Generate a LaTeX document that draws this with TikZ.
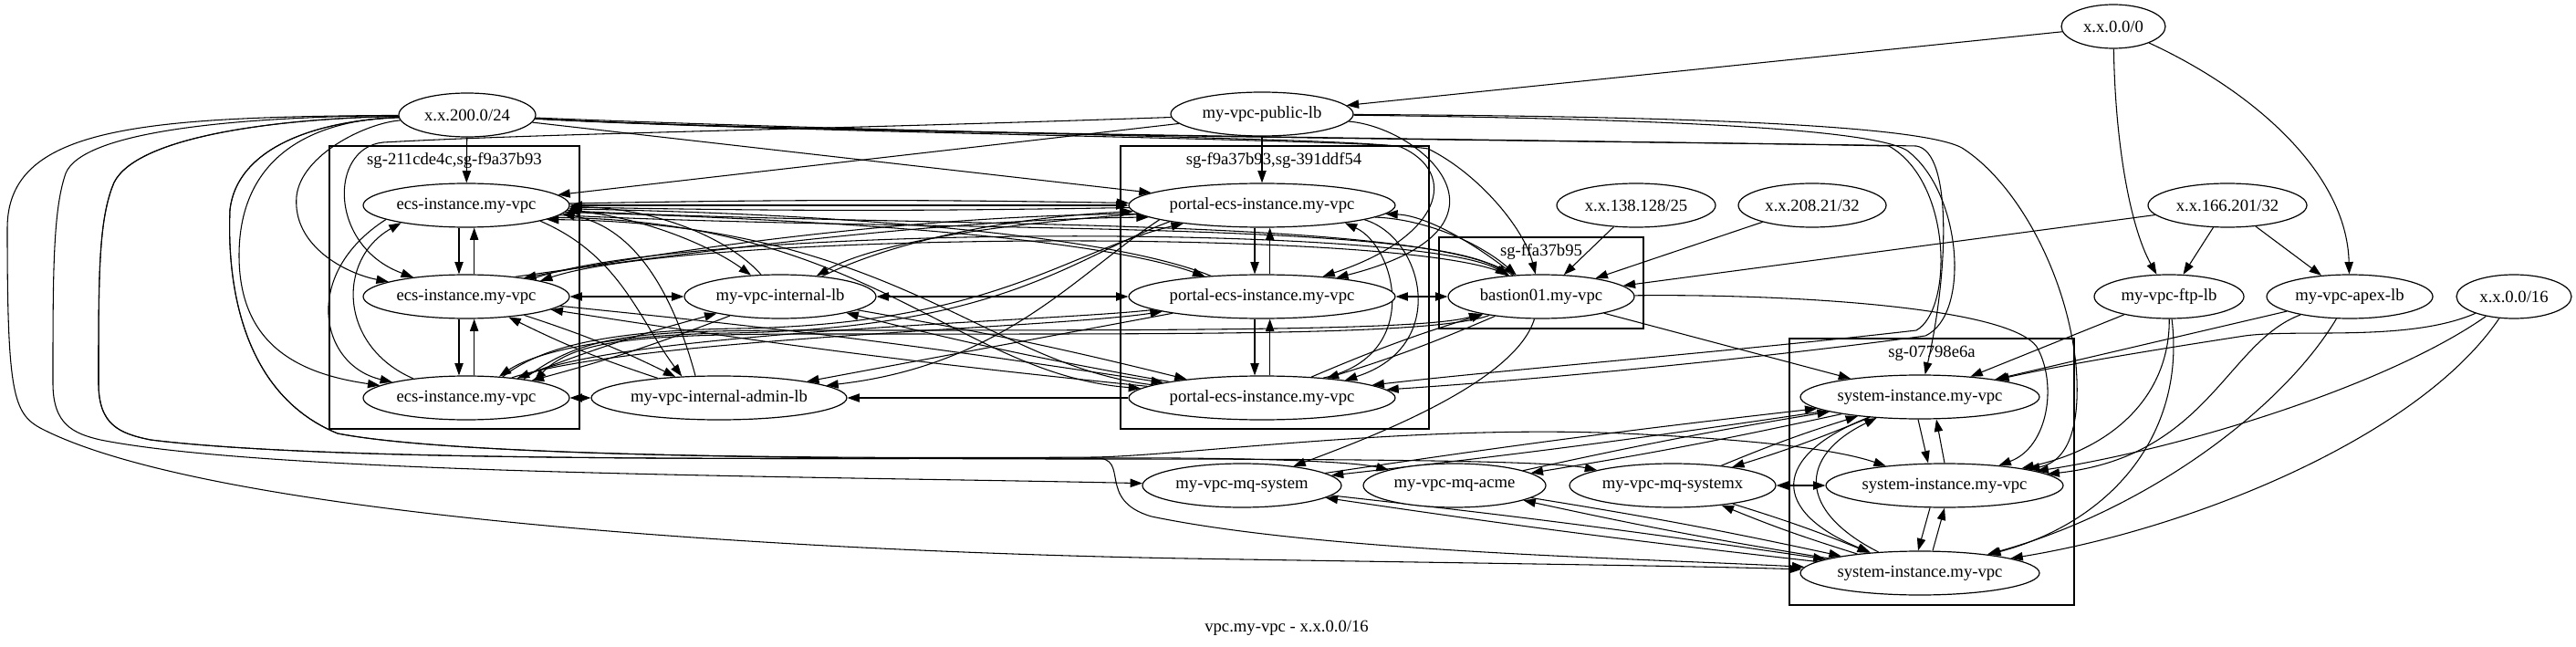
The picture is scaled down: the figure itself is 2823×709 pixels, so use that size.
\documentclass[tikz,border=0pt]{standalone}
\usepackage{fontspec}
\setmainfont{Liberation Serif}
\usetikzlibrary{arrows.meta,shapes.geometric}
\pgfdeclarelayer{bg}
\pgfsetlayers{bg,main}
\begin{document}
\begin{tikzpicture}[x=0.75pt,y=-0.75pt,
  nd/.style={draw, ellipse, fill=white, line width=0.9pt, inner sep=0pt, minimum height=36pt, font=\fontsize{14}{16}\selectfont},
  e/.style={line width=0.8pt, -{Triangle[length=10pt,width=7pt]}},
  ee/.style={line width=0.8pt, {Triangle[length=10pt,width=7pt]}-{Triangle[length=10pt,width=7pt]}},
  cl/.style={draw, line width=0.9pt},
  lbl/.style={font=\fontsize{14}{16}\selectfont, inner sep=0pt}]
\useasboundingbox (0,0) rectangle (2823,709);
\begin{pgfonlayer}{bg}
\fill[white] (0,0) rectangle (2823,709);
\end{pgfonlayer}
% clusters
\draw[cl] (361,160) rectangle (635,470);
\node[lbl] (la) at (498,176) {sg-211cde4c,sg-f9a37b93};
\draw[cl] (1228,160) rectangle (1566,470);
\node[lbl] (lb) at (1396,176) {sg-f9a37b93,sg-391ddf54};
\draw[cl] (1577,260) rectangle (1801,360);
\node[lbl] (lc) at (1689,276) {sg-ffa37b95};
\draw[cl] (1961,371) rectangle (2273,663);
\node[lbl] (ld) at (2117,387) {sg-07798e6a};
% nodes
\node[nd, minimum width=85.5pt] (n00) at (2316,29) {x.x.0.0/0};
\node[nd, minimum width=112.5pt] (n200) at (512,126) {x.x.200.0/24};
\node[nd, minimum width=150pt] (publb) at (1383,125) {my-vpc-public-lb};
\node[nd, minimum width=130.5pt] (n138) at (1793,225) {x.x.138.128/25};
\node[nd, minimum width=121.5pt] (n208) at (1986,225) {x.x.208.21/32};
\node[nd, minimum width=130.5pt] (n166) at (2441,225) {x.x.166.201/32};
\node[nd, minimum width=123pt] (ftp) at (2377,325) {my-vpc-ftp-lb};
\node[nd, minimum width=136.5pt] (apex) at (2575,325) {my-vpc-apex-lb};
\node[nd, minimum width=94.5pt] (n16) at (2755,325) {x.x.0.0/16};
\node[nd, minimum width=169.5pt] (e1) at (511,225) {ecs-instance.my-vpc};
\node[nd, minimum width=169.5pt] (e2) at (511,325) {ecs-instance.my-vpc};
\node[nd, minimum width=169.5pt] (e3) at (511,436) {ecs-instance.my-vpc};
\node[nd, minimum width=157.5pt] (ilb) at (855,325) {my-vpc-internal-lb};
\node[nd, minimum width=210pt] (alb) at (788,436) {my-vpc-internal-admin-lb};
\node[nd, minimum width=219pt] (p1) at (1383,225) {portal-ecs-instance.my-vpc};
\node[nd, minimum width=219pt] (p2) at (1383,325) {portal-ecs-instance.my-vpc};
\node[nd, minimum width=219pt] (p3) at (1383,436) {portal-ecs-instance.my-vpc};
\node[nd, minimum width=153pt] (bast) at (1689,325) {bastion01.my-vpc};
\node[nd, minimum width=196.5pt] (s1) at (2104,435) {system-instance.my-vpc};
\node[nd, minimum width=195pt] (s2) at (2131,532) {system-instance.my-vpc};
\node[nd, minimum width=196.5pt] (s3) at (2104,628) {system-instance.my-vpc};
\node[nd, minimum width=163.5pt] (mqs) at (1361,532) {my-vpc-mq-system};
\node[nd, minimum width=150pt] (mqa) at (1594,532) {my-vpc-mq-acme};
\node[nd, minimum width=169.5pt] (mqx) at (1833,532) {my-vpc-mq-systemx};
\node[lbl] (title) at (1410,688) {vpc.my-vpc - x.x.0.0/16};
% edges
\begin{pgfonlayer}{bg}
% top sources
\draw[e] (n00) -- (publb);
\draw[e] (n00) .. controls (2318,160) and (2335,250) .. (ftp);
\draw[e] (n00) .. controls (2470,100) and (2572,190) .. (apex);
\draw[e] (n166) -- (ftp);
\draw[e] (n166) -- (apex);
\draw[e] (n166) -- (bast);
\draw[e] (n138) -- (bast);
\draw[e] (n208) -- (bast);
% public lb
\draw[e] (publb) -- (p1);
\draw[e] (publb) -- (e1);
\draw[e] (publb) .. controls (900,142) and (600,146) .. (420,156) .. controls (360,162) and (360,270) .. (e2);
\draw[e] (publb) .. controls (1560,140) and (1680,250) .. (p2);
\draw[e] (publb) .. controls (1800,127) and (2100,135) .. (2150,162) .. controls (2210,200) and (2265,300) .. (2275,400) .. controls (2280,460) and (2270,505) .. (s2);
\draw[e] (publb) .. controls (1800,130) and (2050,140) .. (2090,165) .. controls (2150,210) and (2160,345) .. (2110,368) .. controls (1950,390) and (1700,415) .. (p3);
% x.x.200.0/24 to the right
\draw[e] (n200) -- (e1);
\draw[e] (n200) -- (p1);
\draw[e] (n200) .. controls (900,147) and (1500,152) .. (1565,163) .. controls (1620,190) and (1670,250) .. (bast);
\draw[e] (n200) .. controls (1000,146) and (1480,151) .. (1535,161) .. controls (1600,190) and (1580,260) .. (p2);
\draw[e] (n200) .. controls (900,148) and (1900,156) .. (2100,160) .. controls (2140,166) and (2135,300) .. (s1);
\draw[e] (n200) .. controls (900,147) and (1800,154) .. (2070,160) .. controls (2140,200) and (2140,340) .. (2100,362) .. controls (1900,385) and (1650,405) .. (p3);
% x.x.200.0/24 to the left
\draw[e] (n200) .. controls (400,135) and (330,170) .. (325,215) .. controls (320,270) and (380,300) .. (e2);
\draw[e] (n200) .. controls (330,132) and (262,180) .. (262,280) .. controls (262,380) and (330,410) .. (e3);
\draw[e] (n200) .. controls (150,128) and (8,140) .. (8,250) .. controls (8,440) and (15,455) .. (50,472) .. controls (250,570) and (900,605) .. (1300,612) .. controls (1600,617) and (1850,620) .. (s3);
\draw[e] (n200) .. controls (250,128) and (90,145) .. (72,190) .. controls (58,230) and (58,300) .. (58,420) .. controls (58,465) and (80,475) .. (110,482) .. controls (300,520) and (900,522) .. (mqs);
\draw[e] (n200) .. controls (300,130) and (150,150) .. (125,200) .. controls (108,240) and (108,300) .. (108,420) .. controls (108,465) and (130,475) .. (165,482) .. controls (350,505) and (800,503) .. (1200,502) .. controls (1350,501) and (1480,505) .. (mqa);
\draw[e] (n200) .. controls (300,130) and (150,150) .. (125,200) .. controls (108,240) and (108,300) .. (108,420) .. controls (108,465) and (130,475) .. (165,482) .. controls (350,505) and (800,503) .. (1200,502) .. controls (1240,501) and (1200,548) .. (1262,566) .. controls (1450,605) and (1800,612) .. (s3);
\draw[e] (n200) .. controls (350,132) and (260,160) .. (252,230) .. controls (249,300) and (260,430) .. (370,475) .. controls (500,500) and (900,503) .. (1200,503) .. controls (1500,503) and (1700,505) .. (mqx);
\draw[e] (n200) .. controls (350,132) and (260,160) .. (252,230) .. controls (249,300) and (260,430) .. (370,475) .. controls (500,500) and (900,503) .. (1200,501) .. controls (1300,499) and (1550,465) .. (1780,475) .. controls (1950,483) and (2020,495) .. (s2);
% cluster A
\draw[e] ([xshift=-6pt]e1.south) -- ([xshift=-6pt]e2.north);
\draw[e] ([xshift=6.5pt]e2.north) -- ([xshift=6.5pt]e1.south);
\draw[e] ([xshift=-6pt]e2.south) -- ([xshift=-6pt]e3.north);
\draw[e] ([xshift=6.5pt]e3.north) -- ([xshift=6.5pt]e2.south);
\draw[e] (e1.190) .. controls (330,300) and (350,400) .. (e3.168);
\draw[e] (e3.160) .. controls (372,380) and (368,285) .. (e1.195);
\draw[ee] (e3) -- (alb);
% middle
\draw[ee] (e2) -- (ilb);
\draw[ee] (ilb) -- (p2);
\draw[e] (e1) .. controls (700,235) and (780,270) .. (ilb);
\draw[e] (ilb) .. controls (800,262) and (720,228) .. (e1);
\draw[e] (p1) .. controls (1100,245) and (960,265) .. (ilb);
\draw[e] (ilb) .. controls (985,262) and (1110,238) .. (p1);
\draw[e] (e3) to[bend left=3] (ilb);
\draw[e] (ilb) to[bend left=3] (e3);
\draw[e] (ilb) to[bend left=2] (p3);
\draw[e] (p3) to[bend left=2] (ilb);
\draw[e] (e1.-12) .. controls (680,280) and (700,350) .. (alb.150);
\draw[e] (alb.137) .. controls (740,330) and (700,250) .. (e1.-5);
\draw[e] (e2) to[bend left=4] (alb);
\draw[e] (alb) to[bend left=4] (e2);
\draw[e] (p2) -- (alb);
\draw[e] (p1.188) .. controls (1180,300) and (1100,400) .. (alb);
\draw[e] (p3) -- (alb);
% cluster A <-> cluster B
\draw[ee] (e1) -- (p1);
\draw[e] (e1) to[bend left=1] (p1);
\draw[e] (p1) to[bend left=1] (e1);
\draw[e] (e1.-4) .. controls (900,240) and (1200,260) .. (p2);
\draw[e] (p2) .. controls (1210,255) and (900,234) .. (e1.-2);
\draw[e] (e1.-6) .. controls (1000,255) and (1560,240) .. (bast);
\draw[e] (bast) .. controls (1570,236) and (1000,250) .. (e1.-3);
\draw[e] (e1.-8) .. controls (950,240) and (1050,410) .. (p3);
\draw[e] (p3) .. controls (1080,400) and (980,245) .. (e1.-10);
\draw[e] (e2.22) .. controls (800,270) and (1050,240) .. (p1.186);
\draw[e] (p1.184) .. controls (1050,235) and (800,262) .. (e2.18);
\draw[e] (e2.15) .. controls (750,245) and (1560,245) .. (bast);
\draw[e] (bast) .. controls (1570,250) and (760,252) .. (e2.12);
\draw[e] (e2) to[bend left=1.5] (p3);
\draw[e] (p3) to[bend left=1.5] (e2);
\draw[e] (e3.24) .. controls (700,370) and (1150,360) .. (p2);
\draw[e] (p2) .. controls (1160,352) and (700,362) .. (e3.21);
\draw[e] (p1.190) .. controls (1180,280) and (1100,360) .. (800,365) .. controls (650,367) and (580,390) .. (e3.33);
\draw[e] (e3.30) .. controls (590,382) and (660,362) .. (810,360) .. controls (1090,355) and (1170,275) .. (p1.193);
\draw[e] (e3.18) .. controls (640,365) and (700,362) .. (900,362) .. controls (1300,362) and (1560,362) .. (bast);
\draw[e] (bast) .. controls (1570,368) and (1300,366) .. (900,366) .. controls (700,366) and (630,372) .. (e3.14);
% cluster B
\draw[e] ([xshift=-6pt]p1.south) -- ([xshift=-6pt]p2.north);
\draw[e] ([xshift=6.5pt]p2.north) -- ([xshift=6.5pt]p1.south);
\draw[e] ([xshift=-6pt]p2.south) -- ([xshift=-6pt]p3.north);
\draw[e] ([xshift=6.5pt]p3.north) -- ([xshift=6.5pt]p2.south);
\draw[e] (p1.-8) .. controls (1560,260) and (1590,380) .. (p3.12);
\draw[e] (p3.18) .. controls (1560,390) and (1530,270) .. (p1.-12);
\draw[ee] (p2) -- (bast);
\draw[e] (p1.-6) .. controls (1560,240) and (1620,265) .. (bast);
\draw[e] (bast) .. controls (1610,262) and (1560,236) .. (p1.-4);
\draw[e] (p3) to[bend left=3] (bast);
\draw[e] (bast) to[bend left=3] (p3);
% bastion
\draw[e] (bast) -- (s1);
\draw[e] (bast) .. controls (1950,322) and (2200,335) .. (2232,380) .. controls (2255,420) and (2245,490) .. (s2);
\draw[e] (bast) .. controls (1660,420) and (1500,480) .. (mqs);
% system cluster
\draw[e] ([xshift=-1.5pt]s1.south) -- ([xshift=-13.5pt]s2.north);
\draw[e] (s2.north) -- ([xshift=13.5pt]s1.south);
\draw[e] ([xshift=-12pt]s2.south) -- ([xshift=-1.5pt]s3.north);
\draw[e] ([xshift=10.5pt]s3.north) -- (s2.south);
\draw[e] (s1) .. controls (1940,500) and (1940,560) .. (s3);
\draw[e] (s3) .. controls (1970,560) and (1970,500) .. (s1);
\draw[ee] (mqx) -- (s2);
\draw[e] (s1) to[bend left=1] (mqs);
\draw[e] (mqs) to[bend left=1] (s1);
\draw[e] (s1) to[bend left=1.5] (mqa);
\draw[e] (mqa) to[bend left=1.5] (s1);
\draw[e] (s1) to[bend left=2.5] (mqx);
\draw[e] (mqx) to[bend left=2.5] (s1);
\draw[e] (s3) to[bend left=1] (mqs);
\draw[e] (mqs) to[bend left=1] (s3);
\draw[e] (s3) to[bend left=1.5] (mqa);
\draw[e] (mqa) to[bend left=1.5] (s3);
\draw[e] (s3) to[bend left=2.5] (mqx);
\draw[e] (mqx) to[bend left=2.5] (s3);
% right load balancers
\draw[e] (ftp) -- (s1);
\draw[e] (ftp) .. controls (2378,430) and (2320,490) .. (s2);
\draw[e] (ftp) .. controls (2395,470) and (2320,570) .. (s3);
\draw[e] (apex) -- (s1);
\draw[e] (apex) .. controls (2440,375) and (2420,500) .. (s2);
\draw[e] (apex) .. controls (2500,450) and (2350,560) .. (s3);
\draw[e] (n16) .. controls (2640,375) and (2520,360) .. (2460,368) .. controls (2350,385) and (2260,400) .. (s1);
\draw[e] (n16) .. controls (2620,420) and (2400,490) .. (s2);
\draw[e] (n16) .. controls (2650,480) and (2400,580) .. (s3);
\end{pgfonlayer}
\end{tikzpicture}
\end{document}
